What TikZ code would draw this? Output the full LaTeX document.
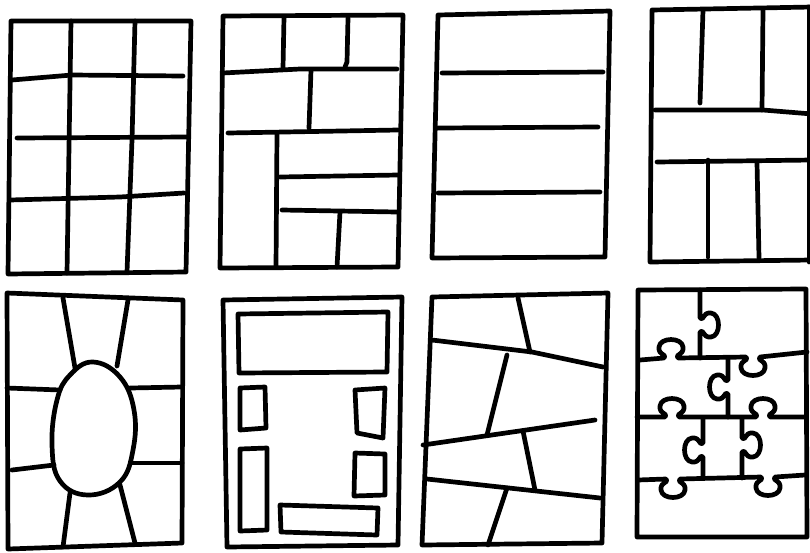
\documentclass[tikz,border=0pt]{standalone}
\begin{document}
\begin{tikzpicture}[x=1pt,y=-1pt,
  ink/.style={draw=black,line width=4.7pt,line cap=round,line join=round},
  hk/.style n args={3}{insert path={
    .. controls ({#1-3},{#2-(#3)*4}) and ({#1-13},{#2-(#3)*2}) .. ({#1-12},{#2-(#3)*11})
    .. controls ({#1-11},{#2-(#3)*21}) and ({#1+11},{#2-(#3)*21}) .. ({#1+12},{#2-(#3)*11})
    .. controls ({#1+13},{#2-(#3)*2}) and ({#1+3},{#2-(#3)*4}) .. ({#1+7},{#2})}},
  vk/.style n args={3}{insert path={
    .. controls ({#1+(#3)*4},{#2-3}) and ({#1+(#3)*2},{#2-13}) .. ({#1+(#3)*11},{#2-12})
    .. controls ({#1+(#3)*21},{#2-11}) and ({#1+(#3)*21},{#2+11}) .. ({#1+(#3)*11},{#2+12})
    .. controls ({#1+(#3)*2},{#2+13}) and ({#1+(#3)*4},{#2+3}) .. ({#1},{#2+7})}}]
\useasboundingbox (0,0) rectangle (810,552);
\clip (0,0) rectangle (810,552);
\fill[white] (0,0) rectangle (810,552);

% Panel 1: 3x4 grid
\draw[ink] (11,21) -- (191,21) -- (186,272) -- (8,274) -- cycle;
\draw[ink] (71,21) -- (67,273);
\draw[ink] (135,21) -- (132,140) -- (127,272);
\draw[ink] (12,80) -- (72,75) -- (183,76);
\draw[ink] (17,138) -- (187,137);
\draw[ink] (10,200) -- (120,197) -- (184,193);

% Panel 2: bricks
\draw[ink] (223,16) -- (403,15) -- (398,267) -- (220,268) -- cycle;
\draw[ink] (284,17) -- (283,68);
\draw[ink] (348,18) -- (347,62) -- (345,67);
\draw[ink] (223,73) -- (300,69) -- (397,69);
\draw[ink] (311,70) -- (309,128);
\draw[ink] (228,133) -- (398,130);
\draw[ink] (277,133) -- (276,267);
\draw[ink] (280,177) -- (398,175);
\draw[ink] (282,210) -- (397,212);
\draw[ink] (340,212) -- (337,267);

% Panel 3: four strips
\draw[ink] (438,15) -- (610,11) -- (605,257) -- (432,258) -- cycle;
\draw[ink] (442,73) -- (603,72);
\draw[ink] (438,128) -- (598,127);
\draw[ink] (438,193) -- (600,192);

% Panel 4: wide band
\draw[ink] (812,7) -- (652,10) -- (650,262) -- (812,260);
\draw[ink] (809,7) -- (809,262);
\draw[ink] (703,10) -- (700,103);
\draw[ink] (763,10) -- (762,110);
\draw[ink] (655,110) -- (763,110) -- (812,114);
\draw[ink] (657,162) -- (812,160);
\draw[ink] (708,160) -- (708,257);
\draw[ink] (757,163) -- (759,258);

% Panel 5: oval centre
\draw[ink] (7,293) -- (183,300) -- (182,543) -- (8,549) -- cycle;
\draw[ink] plot[smooth cycle, tension=0.7] coordinates {(93,362) (120,377) (134,410) (133,450) (120,482) (88,495) (60,481) (52,445) (57,400) (70,375)};
\draw[ink] (63,298) -- (75,368);
\draw[ink] (128,300) -- (117,366);
\draw[ink] (7,388) -- (60,390);
\draw[ink] (130,388) -- (182,387);
\draw[ink] (12,470) -- (54,465);
\draw[ink] (131,463) -- (182,463);
\draw[ink] (70,493) -- (63,547);
\draw[ink] (120,485) -- (135,543);

% Panel 6: boxes
\draw[ink] (223,300) -- (402,297) -- (398,545) -- (227,547) -- cycle;
\draw[ink] (238,314) -- (388,312) -- (387,372) -- (239,373) -- cycle;
\draw[ink] (240,388) -- (265,387) -- (266,428) -- (240,430) -- cycle;
\draw[ink] (240,449) -- (267,448) -- (267,530) -- (240,531) -- cycle;
\draw[ink] (355,390) -- (385,388) -- (383,438) -- (357,433) -- cycle;
\draw[ink] (355,453) -- (385,454) -- (385,495) -- (354,496) -- cycle;
\draw[ink] (280,505) -- (378,508) -- (377,535) -- (281,532) -- cycle;

% Panel 7: slanted
\draw[ink] (432,297) -- (608,293) -- (602,543) -- (422,545) -- cycle;
\draw[ink] (432,340) -- (532,352) -- (603,367);
\draw[ink] (518,298) -- (530,352);
\draw[ink] (507,355) -- (487,435);
\draw[ink] (423,445) -- (595,420);
\draw[ink] (523,431) -- (535,490);
\draw[ink] (427,479) -- (600,498);
\draw[ink] (507,488) -- (488,545);

% Panel 8: puzzle
\draw[ink] (638,290) -- (806,289) -- (807,537) -- (637,537) -- cycle;
\draw[ink] (700,290) -- (700,318) [vk={700}{325}{1}] -- (700,358);
\draw[ink] (640,360) -- (664,358) [hk={671}{358}{1}] -- (746,357) [hk={753}{357}{-1}] -- (807,352);
\draw[ink] (728,358) -- (728,380) [vk={728}{387}{-1}] -- (728,417);
\draw[ink] (637,417) -- (665,417) [hk={672}{417}{1}] -- (756,417) [hk={763}{417}{1}] -- (805,417);
\draw[ink] (703,418) -- (703,443) [vk={703}{450}{-1}] -- (703,477);
\draw[ink] (742,418) -- (742,438) [vk={742}{445}{1}] -- (742,478);
\draw[ink] (638,480) -- (666,479) [hk={673}{479}{-1}] -- (761,477) [hk={768}{477}{-1}] -- (805,475);
\end{tikzpicture}
\end{document}
